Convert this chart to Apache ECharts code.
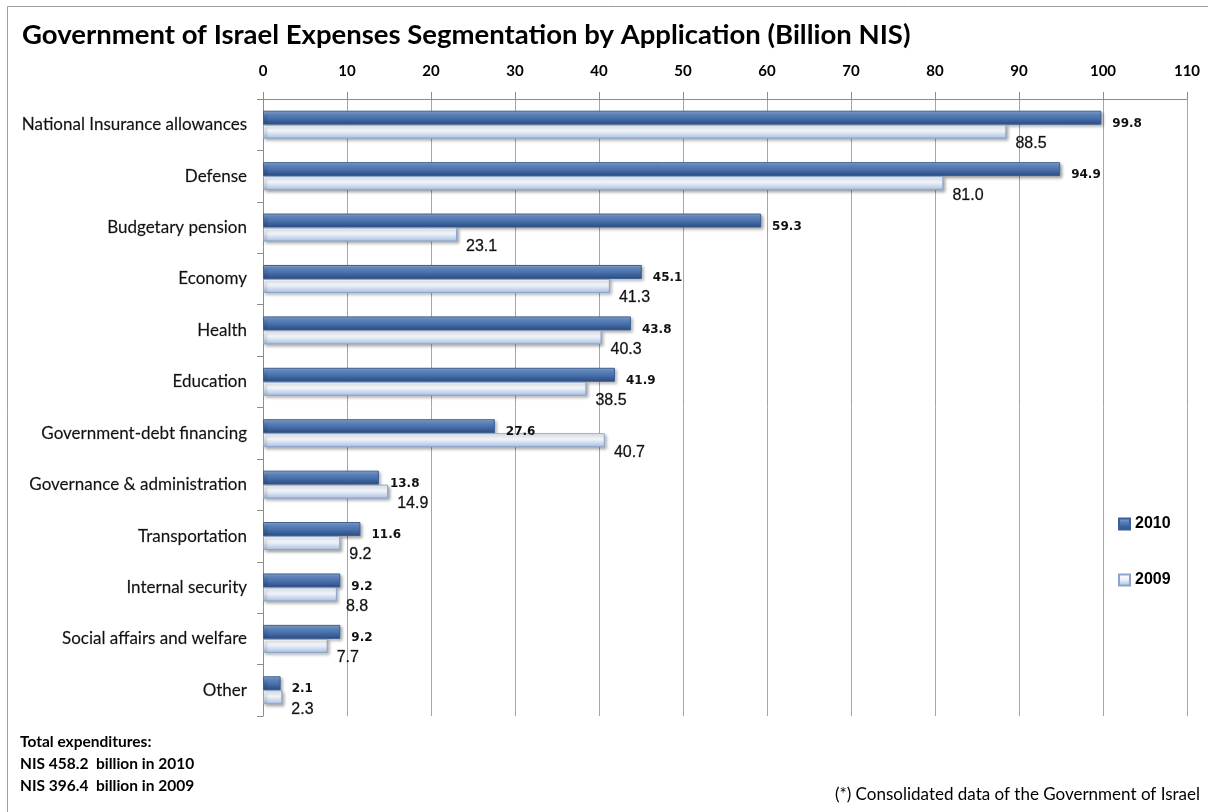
<!DOCTYPE html>
<html><head><meta charset="utf-8">
<script src="https://cdn.jsdelivr.net/npm/echarts@6/dist/echarts.min.js"></script>
<style>html,body{margin:0;padding:0;background:#fff;}#c{width:1208px;height:812px;}</style>
</head><body><div id="c"></div>
<script>
const categories = ["National Insurance allowances","Defense","Budgetary pension","Economy","Health","Education","Government-debt financing","Governance & administration","Transportation","Internal security","Social affairs and welfare","Other"];
const values2010 = [99.8, 94.9, 59.3, 45.1, 43.8, 41.9, 27.6, 13.8, 11.6, 9.2, 9.2, 2.1];
const values2009 = [88.5, 81.0, 23.1, 41.3, 40.3, 38.5, 40.7, 14.9, 9.2, 8.8, 7.7, 2.3];
const xTicks = {min: 0, max: 110, step: 10};
const titleText = "Government of Israel Expenses Segmentation by Application (Billion NIS)";
const totalsText = ["Total expenditures:", "NIS 458.2  billion in 2010", "NIS 396.4  billion in 2009"];
const noteText = "(*) Consolidated data of the Government of Israel";

const chart = echarts.init(document.getElementById('c'), null, {renderer: 'canvas'});
const darkGrad = new echarts.graphic.LinearGradient(0,0,0,1,[
  {offset:0,color:'#95afd8'},{offset:0.35,color:'#5580bd'},{offset:1,color:'#2a4a7e'}]);
const lightGrad = new echarts.graphic.LinearGradient(0,0,0,1,[
  {offset:0,color:'#ffffff'},{offset:0.45,color:'#eef3fa'},{offset:1,color:'#a7bedf'}]);
const font = 'Lato, "Open Sans", sans-serif';
chart.setOption({
  animation: false,
  backgroundColor: '#fff',
  grid: {left: 263, right: 21, top: 99, height: 617, containLabel: false},
  legend: {
    orient: 'vertical', left: 1113, top: 511, itemGap: 40,
    itemWidth: 11, itemHeight: 11, icon: 'rect',
    textStyle: {fontFamily: '"Liberation Sans", Arial, sans-serif', fontWeight: 'bold', fontSize: 16, color: '#000'},
    data: ['2010','2009']
  },
  xAxis: {
    type: 'value', position: 'top', min: xTicks.min, max: xTicks.max, interval: xTicks.step,
    axisLine: {show: true, lineStyle: {color: '#8c8c8c'}},
    axisTick: {show: true, length: 7, lineStyle: {color: '#8c8c8c'}},
    splitLine: {show: true, lineStyle: {color: '#a6a6a6', width: 1}},
    axisLabel: {fontFamily: font, fontWeight: 'bold', fontSize: 15, color: '#000', margin: 20}
  },
  yAxis: {
    type: 'category', inverse: true, data: categories,
    axisLine: {show: true, lineStyle: {color: '#8c8c8c'}},
    axisTick: {show: true, length: 6, lineStyle: {color: '#8c8c8c'}},
    splitLine: {show: false},
    axisLabel: {fontFamily: font, fontSize: 17, color: '#111', margin: 16,
      textBorderColor: 'rgba(17,17,17,0.5)', textBorderWidth: 0.3}
  },
  series: [
    {
      name: '2010', type: 'bar', data: values2010, barWidth: 14, barGap: '0%',
      itemStyle: {color: darkGrad, borderColor: '#3b5f96', borderWidth: 1,
        shadowBlur: 3, shadowOffsetX: 2, shadowOffsetY: 2, shadowColor: 'rgba(0,0,0,0.35)'},
      label: {show: true, position: 'right', distance: 11, offset: [0, 6],
        formatter: p => p.value.toFixed(1),
        fontFamily: '"DejaVu Sans", Verdana, sans-serif', fontWeight: 'bold', fontSize: 12, color: '#111'}
    },
    {
      name: '2009', type: 'bar', data: values2009, barWidth: 14, barGap: '0%',
      itemStyle: {color: lightGrad, borderColor: '#8aa5cc', borderWidth: 1,
        shadowBlur: 3, shadowOffsetX: 2, shadowOffsetY: 2, shadowColor: 'rgba(0,0,0,0.35)'},
      label: {show: true, position: 'right', distance: 9, offset: [0, 12],
        formatter: p => p.value.toFixed(1),
        fontFamily: '"Liberation Sans", Arial, sans-serif', fontSize: 16, color: '#111',
        textBorderColor: 'rgba(17,17,17,0.6)', textBorderWidth: 0.4}
    }
  ],
  graphic: [
    {type: 'rect', silent: true, shape: {x: 7.5, y: 6.5, width: 1400, height: 1000},
      style: {fill: 'none', stroke: '#a0a0a0', lineWidth: 1}},
    {type: 'text', left: 22, top: 21, style: {text: titleText, font: 'bold 27.5px ' + font, fill: '#000'}},
    {type: 'text', left: 20, top: 731, style: {text: totalsText.join('\n'), font: 'bold 15.5px ' + font, lineHeight: 22, fill: '#000'}},
    {type: 'text', right: 8, top: 786, style: {text: noteText, font: '17px ' + font, fill: '#000'}}
  ]
});
</script></body></html>
